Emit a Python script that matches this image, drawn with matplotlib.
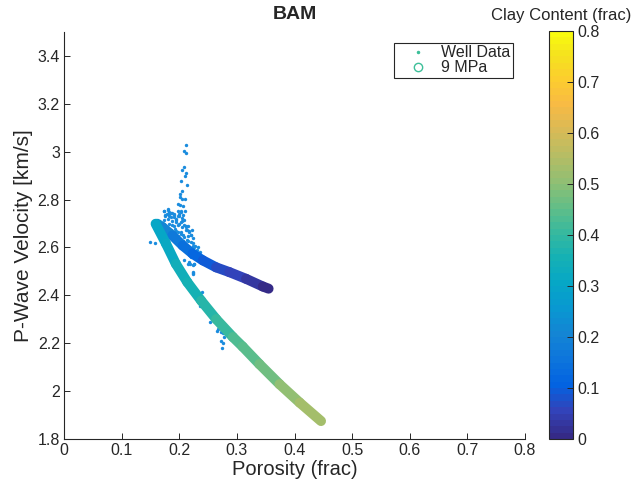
import numpy as np
import matplotlib
matplotlib.use("Agg")
import matplotlib.pyplot as plt
from matplotlib.collections import LineCollection
from matplotlib.colors import LinearSegmentedColormap, Normalize
from matplotlib.cm import ScalarMappable
from matplotlib.lines import Line2D
from matplotlib.ticker import FuncFormatter

# ---------------- data ----------------
well_phi = [0.211, 0.208, 0.212, 0.208, 0.205, 0.211, 0.210, 0.203, 0.213, 0.204,
            0.202, 0.201, 0.205, 0.210, 0.198, 0.202, 0.206,
            0.174, 0.180, 0.183, 0.186, 0.197, 0.203, 0.210, 0.179, 0.191,
            0.176, 0.183, 0.191, 0.199, 0.205,
            0.174, 0.181, 0.188, 0.195, 0.203, 0.209,
            0.183, 0.191, 0.198, 0.205, 0.211, 0.215,
            0.186, 0.195, 0.203, 0.211, 0.217, 0.222,
            0.190, 0.198, 0.207, 0.215, 0.220, 0.224,
            0.149, 0.158,
            0.207, 0.215, 0.224, 0.227, 0.233, 0.230,
            0.222, 0.230, 0.236, 0.226, 0.233, 0.236,
            0.209, 0.215, 0.219, 0.224, 0.224, 0.226, 0.223,
            0.240, 0.237, 0.236, 0.254, 0.267, 0.266, 0.272, 0.276, 0.277,
            0.272, 0.276, 0.275,
            0.174, 0.176, 0.180, 0.183, 0.186, 0.188, 0.191, 0.194, 0.197, 0.200,
            0.203, 0.207, 0.194, 0.200, 0.205, 0.209, 0.212, 0.214, 0.217, 0.220,
            0.188, 0.193, 0.197, 0.203, 0.209, 0.214, 0.220, 0.223, 0.226, 0.217,
            0.214, 0.217, 0.220, 0.217, 0.226, 0.223]
well_vp = [3.030, 3.003, 2.994, 2.938, 2.925, 2.913, 2.899, 2.878, 2.863, 2.836,
           2.823, 2.812, 2.804, 2.802, 2.783, 2.779, 2.772,
           2.754, 2.759, 2.748, 2.742, 2.754, 2.751, 2.752, 2.739, 2.738,
           2.730, 2.733, 2.728, 2.731, 2.724,
           2.713, 2.717, 2.709, 2.713, 2.706, 2.713,
           2.696, 2.690, 2.692, 2.685, 2.690, 2.688,
           2.671, 2.667, 2.665, 2.671, 2.667, 2.671,
           2.650, 2.646, 2.652, 2.646, 2.652, 2.638,
           2.622, 2.617,
           2.625, 2.629, 2.620, 2.608, 2.604, 2.590,
           2.580, 2.573, 2.583, 2.560, 2.555, 2.560,
           2.546, 2.532, 2.529, 2.525, 2.494, 2.532, 2.490,
           2.416, 2.360, 2.356, 2.290, 2.259, 2.252, 2.245, 2.242, 2.226,
           2.208, 2.201, 2.180,
           2.751, 2.734, 2.755, 2.741, 2.727, 2.744, 2.734, 2.720, 2.730, 2.741,
           2.748, 2.734, 2.706, 2.699, 2.710, 2.692, 2.685, 2.671, 2.664, 2.650,
           2.692, 2.678, 2.664, 2.657, 2.643, 2.632, 2.622, 2.608, 2.601, 2.601,
           2.587, 2.574, 2.562, 2.538, 2.532, 2.497]

# model (9 MPa), sand branch
sand_phi = [0.162, 0.171, 0.188, 0.206, 0.223, 0.241, 0.264, 0.287, 0.316, 0.345, 0.355]
sand_vp = [2.699, 2.685, 2.650, 2.608, 2.574, 2.546, 2.517, 2.497, 2.469, 2.437, 2.428]
sand_clay = [0.25, 0.23, 0.19, 0.16, 0.13, 0.10, 0.08, 0.06, 0.04, 0.01, 0.00]

# model (9 MPa), shale branch
shale_phi = [0.159, 0.177, 0.194, 0.214, 0.238, 0.264, 0.293, 0.310, 0.339, 0.374, 0.409, 0.446]
shale_vp = [2.699, 2.616, 2.532, 2.455, 2.378, 2.301, 2.226, 2.186, 2.113, 2.029, 1.952, 1.875]
shale_clay = [0.30, 0.31, 0.33, 0.35, 0.37, 0.39, 0.42, 0.43, 0.46, 0.49, 0.52, 0.55]

x_ticks = [0, 0.1, 0.2, 0.3, 0.4, 0.5, 0.6, 0.7, 0.8]
y_ticks = [1.8, 2.0, 2.2, 2.4, 2.6, 2.8, 3.0, 3.2, 3.4]
c_ticks = [0, 0.1, 0.2, 0.3, 0.4, 0.5, 0.6, 0.7, 0.8]

# ---------------- style ----------------
parula_anchors = [
    (0.2081, 0.1663, 0.5292), (0.1959, 0.2645, 0.7279), (0.0117, 0.3875, 0.8820),
    (0.0498, 0.4586, 0.8641), (0.0793, 0.5200, 0.8312), (0.0343, 0.5966, 0.8199),
    (0.0228, 0.6535, 0.7768), (0.0843, 0.6928, 0.7062), (0.2178, 0.7250, 0.6193),
    (0.3953, 0.7459, 0.5244), (0.5709, 0.7485, 0.4494), (0.7184, 0.7411, 0.3905),
    (0.8507, 0.7299, 0.3360), (0.9739, 0.7314, 0.2666), (0.9880, 0.8066, 0.1794),
    (0.9589, 0.8949, 0.1132), (0.9763, 0.9831, 0.0538)]
pos = [0, 4, 8, 12, 16, 20, 24, 28, 32, 36, 40, 44, 48, 52, 56, 60, 63]
parula = LinearSegmentedColormap.from_list(
    "parula", [(p / 63.0, c) for p, c in zip(pos, parula_anchors)], N=64)

plt.rcParams['font.family'] = ['Liberation Sans', 'DejaVu Sans']
txt = '#262626'
plt.rcParams['text.color'] = txt
plt.rcParams['axes.labelcolor'] = txt
plt.rcParams['xtick.color'] = txt
plt.rcParams['ytick.color'] = txt

fig = plt.figure(figsize=(6.32, 4.86), dpi=100)
ax = fig.add_axes([64 / 632, 47 / 486, 461 / 632, 407 / 486])
norm = Normalize(0, 0.8)

well_color = (0.10, 0.55, 0.87)
ax.scatter(well_phi, well_vp, s=6, color=well_color, linewidths=0, zorder=2)

for phis, vps, clays in [(sand_phi, sand_vp, sand_clay), (shale_phi, shale_vp, shale_clay)]:
    pts = np.column_stack([phis, vps])
    segs = np.stack([pts[:-1], pts[1:]], axis=1)
    cvals = 0.5 * (np.array(clays[:-1]) + np.array(clays[1:]))
    lc = LineCollection(segs, cmap=parula, norm=norm, linewidths=7.2,
                        capstyle='round', joinstyle='round', zorder=3)
    lc.set_array(cvals)
    ax.add_collection(lc)

ax.set_xlim(0, 0.8)
ax.set_ylim(1.8, 3.5)
ax.set_xticks(x_ticks)
ax.set_yticks(y_ticks)
fmt = FuncFormatter(lambda v, p: '%g' % round(v, 2))
ax.xaxis.set_major_formatter(fmt)
ax.yaxis.set_major_formatter(fmt)
ax.tick_params(direction='in', length=4, width=0.7, labelsize=11.5, pad=3)
for s in ['top', 'right']:
    ax.spines[s].set_visible(False)
for s in ['left', 'bottom']:
    ax.spines[s].set_color(txt)
    ax.spines[s].set_linewidth(0.8)
ax.set_xlabel('Porosity (frac)', fontsize=14.5, labelpad=1)
ax.set_ylabel('P-Wave Velocity [km/s]', fontsize=15, labelpad=3)
ax.set_title('BAM', fontsize=14, fontweight='bold', pad=9)

teal = (0.24, 0.75, 0.60)
handles = [Line2D([], [], linestyle='none', marker='.', markersize=3, color=teal),
           Line2D([], [], linestyle='none', marker='o', markersize=6,
                  markerfacecolor='none', markeredgecolor=teal, markeredgewidth=1)]
leg = ax.legend(handles, ['Well Data', '9 MPa'], loc='upper right',
                bbox_to_anchor=(0.973, 0.973), fontsize=11.5, frameon=True,
                fancybox=False, framealpha=1, edgecolor='#262626',
                borderpad=0.15, labelspacing=0.0, handletextpad=0.1,
                handlelength=2.7, borderaxespad=0)
leg.get_frame().set_linewidth(0.8)

cax = fig.add_axes([549 / 632, 47 / 486, 24 / 632, 408 / 486])
cb = fig.colorbar(ScalarMappable(norm=norm, cmap=parula), cax=cax)
cb.set_ticks(c_ticks)
cb.ax.yaxis.set_major_formatter(fmt)
cb.ax.tick_params(direction='in', length=4, width=0.7, labelsize=11.5, pad=3)
cb.outline.set_edgecolor(txt)
cb.outline.set_linewidth(0.8)
cax.set_title('Clay Content (frac)', fontsize=12, pad=8)

fig.savefig('out.png', dpi=100)
